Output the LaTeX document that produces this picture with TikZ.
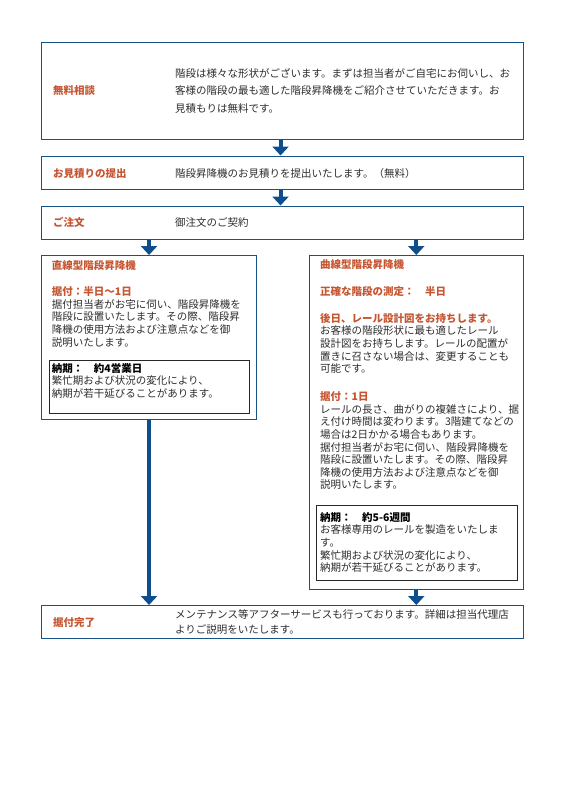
\documentclass[tikz,border=0pt]{standalone}
\usepackage{fontspec}
\setmainfont{Noto Sans CJK JP}
\usetikzlibrary{arrows.meta}
\definecolor{boxblue}{RGB}{22,82,136}
\definecolor{arrowblue}{RGB}{14,78,140}
\definecolor{labred}{RGB}{198,86,50}
\definecolor{txtgray}{RGB}{45,45,45}
\definecolor{inkgray}{RGB}{40,40,40}
\newcommand\jpsize{\fontsize{10.5}{12.6}\selectfont}
\begin{document}
\begin{tikzpicture}[x=1pt,y=-1pt,
  box/.style={draw=boxblue, line width=1.1pt, anchor=north west, inner sep=0pt},
  inbox/.style={draw=inkgray, line width=1pt, anchor=north west, inner sep=0pt},
  lab/.style={anchor=west, inner sep=0pt, text=labred, font=\jpsize\bfseries},
  txt/.style={anchor=west, inner sep=0pt, text=txtgray, font=\jpsize},
  blk/.style={anchor=north west, inner sep=0pt, align=left, text=txtgray, font=\jpsize},
  flow/.style={draw=arrowblue, line width=4pt, -{Triangle[width=16pt,length=9pt]}}]
\fill[white] (0,0) rectangle (565,793);
\useasboundingbox (0,0) rectangle (565,793);

% boxes
\node[box, minimum width=482pt, minimum height=97.5pt] (b1) at (41,41.5) {};
\node[box, minimum width=482pt, minimum height=33pt] (b2) at (41,155.5) {};
\node[box, minimum width=482pt, minimum height=33pt] (b3) at (41,205.5) {};
\node[box, minimum width=215pt, minimum height=164pt] (L) at (41,255) {};
\node[box, minimum width=214.5pt, minimum height=334pt] (R) at (308.5,255) {};
\node[inbox, minimum width=200.5pt, minimum height=53pt] (Li) at (48.5,360) {};
\node[inbox, minimum width=201pt, minimum height=75pt] (Ri) at (316,505) {};
\node[box, minimum width=482pt, minimum height=32.5pt] (F) at (41,605) {};

% box 1
\node[lab] (b1l) at (53,91) {無料相談};
\node[blk, font=\fontsize{10.5}{17.7}\selectfont] (b1t) at (175,67.8)
  {階段は様々な形状がございます。まずは担当者がご自宅にお伺いし、お\\
   客様の階段の最も適した階段昇降機をご紹介させていただきます。お\\
   見積もりは無料です。};

% box 2
\node[lab] (b2l) at (53,173.3) {お見積りの提出};
\node[txt] (b2t) at (175,173.3) {階段昇降機のお見積りを提出いたします。（無料）};

% box 3
\node[lab] (b3l) at (53,222.3) {ご注文};
\node[txt] (b3t) at (175,222.3) {御注文のご契約};

% left box
\node[lab] (Lh) at (51.7,265) {直線型階段昇降機};
\node[blk] (Lt) at (51.7,286.5)
  {{\color{labred}\bfseries 据付：半日〜1日}\\
   据付担当者がお宅に伺い、階段昇降機を\\
   階段に設置いたします。その際、階段昇\\
   降機の使用方法および注意点などを御\\
   説明いたします。};
\node[blk] (Lit) at (51.7,363.1)
  {{\color{black}\bfseries 納期：　約4営業日}\\
   繁忙期および状況の変化により、\\
   納期が若干延びることがあります。};

% right box
\node[lab] (Rh) at (320,265) {曲線型階段昇降機};
\node[lab] (Rm) at (320,291.7) {正確な階段の測定：　半日};
\node[blk] (Rt1) at (320,313.1)
  {{\color{labred}\bfseries 後日、レール設計図をお持ちします。}\\
   お客様の階段形状に最も適したレール\\
   設計図をお持ちします。レールの配置が\\
   置きに召さない場合は、変更することも\\
   可能です。};
\node[blk] (Rt2) at (320,391.5)
  {{\color{labred}\bfseries 据付：1日}\\
   レールの長さ、曲がりの複雑さにより、据\\
   え付け時間は変わります。3階建てなどの\\
   場合は2日かかる場合もあります。\\
   据付担当者がお宅に伺い、階段昇降機を\\
   階段に設置いたします。その際、階段昇\\
   降機の使用方法および注意点などを御\\
   説明いたします。};
\node[blk] (Rit) at (320,512.1)
  {{\color{black}\bfseries 納期：　約5-6週間}\\
   お客様専用のレールを製造をいたしま\\
   す。\\
   繁忙期および状況の変化により、\\
   納期が若干延びることがあります。};

% final box
\node[lab] (Fl) at (53,622.7) {据付完了};
\node[blk, font=\fontsize{10.5}{15}\selectfont] (Ft) at (175,609.8)
  {メンテナンス等アフターサービスも行っております。詳細は担当代理店\\
   よりご説明をいたします。};

% arrows
\draw[flow] ([xshift=-2pt]b1.south) -- ([xshift=-2pt]b2.north);
\draw[flow] ([xshift=-2pt]b2.south) -- ([xshift=-2pt]b3.north);
\draw[flow] (b3.south -| L.north) -- (L.north);
\draw[flow] (b3.south -| R.north) -- (R.north);
\draw[flow] (L.south) -- (L.south |- F.north);
\draw[flow] (R.south) -- (R.south |- F.north);
\end{tikzpicture}
\end{document}
